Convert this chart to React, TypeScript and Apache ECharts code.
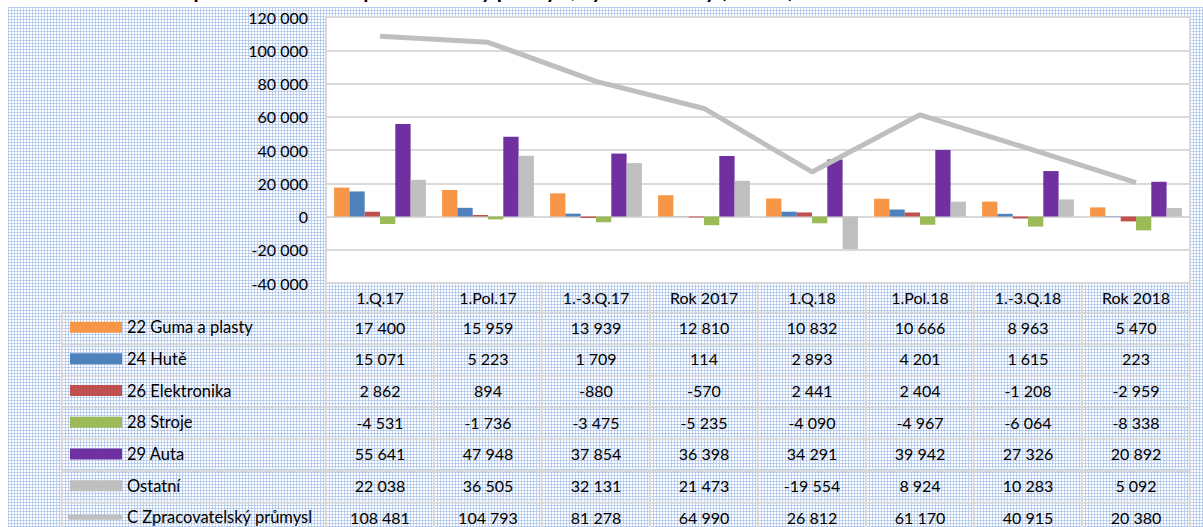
import React, { useEffect, useRef } from "react";
import * as echarts from "echarts";

const categories = ["1.Q.17", "1.Pol.17", "1.-3.Q.17", "Rok 2017", "1.Q.18", "1.Pol.18", "1.-3.Q.18", "Rok 2018"];
const guma = [17400, 15959, 13939, 12810, 10832, 10666, 8963, 5470];
const hute = [15071, 5223, 1709, 114, 2893, 4201, 1615, 223];
const elektronika = [2862, 894, -880, -570, 2441, 2404, -1208, -2959];
const stroje = [-4531, -1736, -3475, -5235, -4090, -4967, -6064, -8338];
const auta = [55641, 47948, 37854, 36398, 34291, 39942, 27326, 20892];
const ostatni = [22038, 36505, 32131, 21473, -19554, 8924, 10283, 5092];
const zpracovatelsky = [108481, 104793, 81278, 64990, 26812, 61170, 40915, 20380];

const seriesNames = ["22 Guma a plasty", "24 Hutě", "26 Elektronika", "28 Stroje", "29 Auta", "Ostatní", "C Zpracovatelský průmysl"];
const yMin = -40000;
const yMax = 120000;
const yInterval = 20000;
const titleText = "Zisk před zdaněním – zpracovatelský průmysl, vybrané obory (mil. Kč)";

const colors = ["#F79646", "#4F81BD", "#C0504D", "#9BBB59", "#7030A0", "#BFBFBF", "#BFBFBF"];

const fmt = (v: number) => {
  const s = Math.abs(v).toString().replace(/\B(?=(\d{3})+(?!\d))/g, " ");
  return (v < 0 ? "-" : "") + s;
};

const FONT = "Lato, 'Open Sans', sans-serif";

export default function App() {
  const ref = useRef<HTMLDivElement>(null);
  useEffect(() => {
    if (!ref.current) return;
    const chart = echarts.init(ref.current, undefined, { renderer: "svg" });
    const gridLeft = 326;
    const gridTop = 17;
    const gridW = 864;
    const gridH = 266;
    const colW = gridW / categories.length;
    const tableTop = 312.5;
    const rowH = 31.7;
    const lineColor = "#d9d9d9";
    const barData = [guma, hute, elektronika, stroje, auta, ostatni];
    const allRows = [...barData, zpracovatelsky];

    const graphics: any[] = [];
    // title (cut off at top edge in the reference)
    graphics.push({
      type: "text",
      x: 150,
      y: 0,
      style: { text: titleText, font: `bold 21px ${FONT}`, fill: "#000", verticalAlign: "bottom", align: "left" },
      z: 1,
    });
    // horizontal table lines
    for (let k = 0; k <= allRows.length; k++) {
      const y = tableTop + k * rowH;
      graphics.push({
        type: "line",
        shape: { x1: 62, y1: y, x2: gridLeft + gridW, y2: y },
        style: { stroke: lineColor, lineWidth: 2 },
        silent: true,
      });
    }
    // vertical lines
    graphics.push({
      type: "line",
      shape: { x1: 62, y1: tableTop, x2: 62, y2: 540 },
      style: { stroke: lineColor, lineWidth: 2 },
      silent: true,
    });
    for (let c = 0; c <= categories.length; c++) {
      const x = gridLeft + c * colW;
      graphics.push({
        type: "line",
        shape: { x1: x, y1: gridTop + gridH, x2: x, y2: 540 },
        style: { stroke: lineColor, lineWidth: 2 },
        silent: true,
      });
    }
    // rows
    allRows.forEach((row, r) => {
      const cy = tableTop + r * rowH + rowH / 2 - 1.2;
      if (r < barData.length) {
        graphics.push({
          type: "rect",
          shape: { x: 70, y: cy - 5.5, width: 52, height: 11 },
          style: { fill: colors[r] },
        });
      } else {
        graphics.push({
          type: "line",
          shape: { x1: 70, y1: cy, x2: 120, y2: cy },
          style: { stroke: colors[r], lineWidth: 5, lineCap: "round" },
        });
      }
      graphics.push({
        type: "text",
        x: 127,
        y: cy,
        style: { text: seriesNames[r], font: `16.5px ${FONT}`, fill: "#000", verticalAlign: "middle", align: "left" },
      });
      row.forEach((v, c) => {
        graphics.push({
          type: "text",
          x: gridLeft + (c + 0.5) * colW,
          y: cy,
          style: { text: fmt(v), font: `16px ${FONT}`, fill: "#000", verticalAlign: "middle", align: "center" },
        });
      });
    });

    const barSeries = barData.map((d, i) => ({
      name: seriesNames[i],
      type: "bar",
      data: d,
      barGap: "0%",
      barCategoryGap: "15%",
      itemStyle: { color: colors[i] },
      z: 2,
    }));

    chart.setOption({
      animation: false,
      backgroundColor: "transparent",
      textStyle: { fontFamily: FONT },
      grid: {
        left: gridLeft,
        top: gridTop,
        width: gridW,
        height: gridH,
        show: true,
        backgroundColor: "#ffffff",
        borderColor: lineColor,
        borderWidth: 2,
      },
      xAxis: {
        type: "category",
        data: categories,
        axisLine: { show: false },
        axisTick: { show: false },
        axisLabel: { color: "#000", fontSize: 16, fontFamily: FONT, margin: 6, interval: 0 },
      },
      yAxis: {
        type: "value",
        min: yMin,
        max: yMax,
        interval: yInterval,
        axisLine: { show: false },
        axisTick: { show: false },
        splitLine: { lineStyle: { color: lineColor, width: 2 } },
        axisLabel: { color: "#000", fontSize: 16, fontFamily: FONT, margin: 18, formatter: (v: number) => fmt(v) },
      },
      series: [
        ...barSeries,
        {
          name: seriesNames[6],
          type: "line",
          data: zpracovatelsky,
          showSymbol: false,
          symbol: "none",
          lineStyle: { color: colors[6], width: 5 },
          itemStyle: { color: colors[6] },
          z: 5,
        },
      ],
      graphic: graphics,
    });
    return () => chart.dispose();
  }, []);

  return (
    <div style={{ position: "absolute", left: 0, top: 0, width: 1203, height: 527, background: "#fff", overflow: "hidden" }}>
      <div
        style={{
          position: "absolute",
          left: 8,
          top: 7,
          right: 0,
          bottom: 0,
          backgroundColor: "#ffffff",
          backgroundImage:
            "linear-gradient(to right, rgba(160,188,232,0.65) 1px, transparent 1px), linear-gradient(to bottom, rgba(160,188,232,0.65) 1px, transparent 1px)",
          backgroundSize: "3px 3px",
        }}
      />
      <div ref={ref} style={{ position: "absolute", left: 0, top: 0, width: 1203, height: 527 }} />
    </div>
  );
}
